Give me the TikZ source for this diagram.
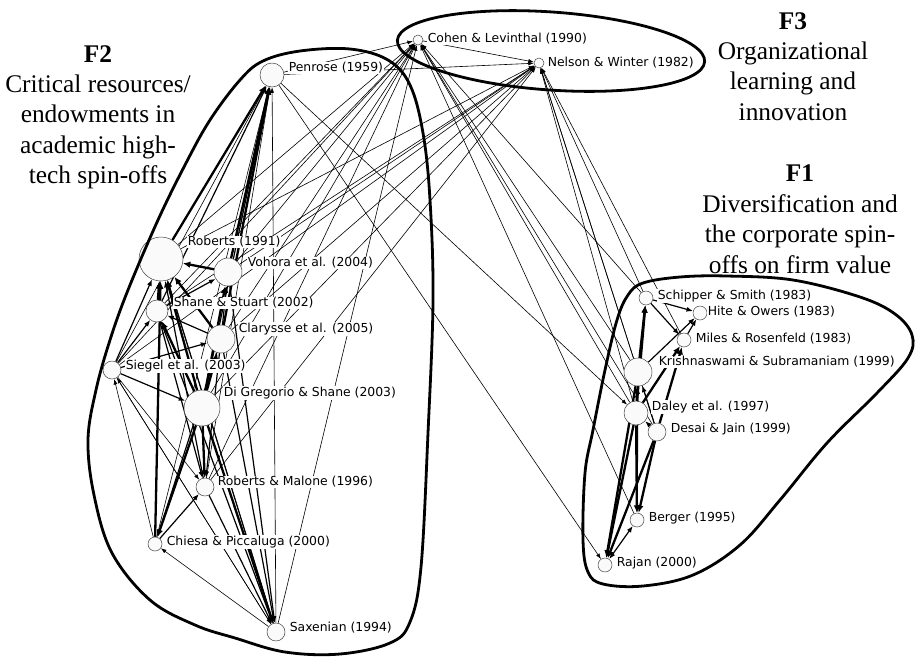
\documentclass[tikz,border=0pt]{standalone}
\usepackage{fontspec}
\setmainfont{Liberation Serif}
\newfontfamily\labelfont{DejaVu Sans}
\usetikzlibrary{arrows.meta,backgrounds}
\tikzset{>={Latex[length=5.5pt,width=4pt]}}
\tikzset{
  paper/.style = {circle, draw=black!75, fill=black!2, line width=0.5pt, inner sep=0pt},
  name tag/.style = {anchor=west, fill=white, inner sep=0.6pt,
    font=\labelfont\fontsize{12.4}{14}\selectfont},
  link/.style = {->, line width=0.6pt},
  link med/.style = {->, line width=1.2pt, >={Latex[length=6.5pt,width=5pt]}},
  link thick/.style = {->, line width=2.3pt, >={Latex[length=7.5pt,width=6.5pt]}},
  hull/.style = {line width=2.8pt},
  factor/.style = {anchor=north, align=center, inner sep=0pt,
    font=\fontsize{25.4}{30.4}\selectfont}
}

\begin{document}
\begin{tikzpicture}[x=1pt,y=-1pt]
  \useasboundingbox (0,0) rectangle (917,657);
  % papers of F2
  \node[paper,minimum size=24] (pen)    at (272,75)  {};
  \node[paper,minimum size=44] (rob91)  at (161,259) {};
  \node[paper,minimum size=28] (voh)    at (228,272) {};
  \node[paper,minimum size=22] (shst)   at (157,311) {};
  \node[paper,minimum size=28] (clar)   at (221,339) {};
  \node[paper,minimum size=18] (sieg)   at (112,370) {};
  \node[paper,minimum size=36] (digr)   at (202,408) {};
  \node[paper,minimum size=18] (robmal) at (205,487) {};
  \node[paper,minimum size=14] (chie)   at (155,544) {};
  \node[paper,minimum size=18] (sax)    at (276,632) {};
  % papers of F3
  \node[paper,minimum size=10] (coh)    at (418,40)  {};
  \node[paper,minimum size=10] (nel)    at (539,63)  {};
  % papers of F1
  \node[paper,minimum size=14] (schip)  at (646,298) {};
  \node[paper,minimum size=14] (hite)   at (700,313) {};
  \node[paper,minimum size=14] (miles)  at (684,340) {};
  \node[paper,minimum size=28] (krish)  at (638,372) {};
  \node[paper,minimum size=24] (daley)  at (636,413) {};
  \node[paper,minimum size=18] (desai)  at (657,432) {};
  \node[paper,minimum size=14] (berg)   at (637,520) {};
  \node[paper,minimum size=14] (rajan)  at (605,565) {};

  \begin{pgfonlayer}{background}
  % citations of F3
  \foreach \a in {pen,rob91,voh,shst,clar,sieg,digr,robmal,sax,schip,krish,daley,desai,berg}
    \draw[link] (\a) -- (coh);
  \foreach \a in {pen,coh,rob91,voh,shst,clar,sieg,digr,robmal,schip,miles,krish,daley,desai}
    \draw[link] (\a) -- (nel);
  % citations of Penrose
  \draw[link thick] (rob91) -- (pen);
  \draw[link thick] (voh) -- (pen);
  \draw[link thick] (clar) -- (pen);
  \draw[link med] (digr) -- (pen);
  \draw[link med] (shst) -- (pen);
  \foreach \a in {sieg,chie,robmal,sax}
    \draw[link] (\a) -- (pen);
  \draw[link] (pen) -- (daley);
  \draw[link] (pen) -- (rajan);
  % inside F2
  \draw[link thick] (voh) -- (rob91);
  \draw[link thick] (shst) -- (rob91);
  \draw[link thick] (clar) -- (rob91);
  \draw[link thick] (digr) -- (rob91);
  \draw[link thick] (chie) -- (rob91);
  \draw[link med] (sieg) -- (rob91);
  \draw[link med] (robmal) -- (rob91);
  \draw[link med] (sax) -- (rob91);
  \draw[link med] (clar) -- (voh);
  \draw[link thick] (digr) -- (voh);
  \draw[link med] (shst) -- (voh);
  \draw[link med] (clar) -- (shst);
  \draw[link thick] (digr) -- (shst);
  \draw[link med] (sieg) -- (shst);
  \draw[link thick] (digr) -- (clar);
  \draw[link med] (sieg) -- (clar);
  \draw[link med] (sieg) -- (digr);
  \draw[link thick] (digr) -- (robmal);
  \draw[link med] (clar) -- (robmal);
  \draw[link med] (shst) -- (robmal);
  \draw[link med] (chie) -- (robmal);
  \draw[link] (sieg) -- (robmal);
  \draw[link thick] (digr) -- (chie);
  \draw[link med] (clar) -- (chie);
  \draw[link] (chie) -- (sieg);
  \draw[link] (sax) -- (sieg);
  \draw[link thick] (digr) -- (sax);
  \draw[link med] (clar) -- (sax);
  \draw[link med] (voh) -- (sax);
  \draw[link med] (shst) -- (sax);
  \draw[link med] (robmal) -- (sax);
  \draw[link] (rob91) -- (sax);
  \draw[link] (sieg) -- (sax);
  \draw[link] (sax) -- (chie);
  % inside F1
  \draw[link thick] (krish) -- (schip);
  \draw[link thick] (daley) -- (schip);
  \draw[link med] (schip) -- (hite);
  \draw[link med] (schip) -- (miles);
  \draw[link med] (miles) -- (hite);
  \draw[link med] (krish) -- (hite);
  \draw[link thick] (daley) -- (miles);
  \draw[link thick] (desai) -- (miles);
  \draw[link thick] (daley) -- (krish);
  \draw[link med] (desai) -- (krish);
  \draw[link med] (desai) -- (daley);
  \draw[link thick] (daley) -- (berg);
  \draw[link thick] (desai) -- (berg);
  \draw[link med] (krish) -- (berg);
  \draw[link thick] (krish) -- (rajan);
  \draw[link thick] (daley) -- (rajan);
  \draw[link thick] (desai) -- (rajan);
  \draw[link med,<->] (berg) -- (rajan);
  \end{pgfonlayer}

  % names
  \node[name tag] (pen-t)    at (288,68)  {Penrose (1959)};
  \node[name tag] (rob91-t)  at (187,242) {Roberts (1991)};
  \node[name tag] (voh-t)    at (247,263) {Vohora et al. (2004)};
  \node[name tag] (shst-t)   at (173,303) {Shane \& Stuart (2002)};
  \node[name tag] (clar-t)   at (238,329) {Clarysse et al. (2005)};
  \node[name tag] (sieg-t)   at (125,366) {Siegel et al. (2003)};
  \node[name tag] (digr-t)   at (223,393) {Di Gregorio \& Shane (2003)};
  \node[name tag] (robmal-t) at (217,482) {Roberts \& Malone (1996)};
  \node[name tag] (chie-t)   at (166,542) {Chiesa \& Piccaluga (2000)};
  \node[name tag] (sax-t)    at (289,628) {Saxenian (1994)};
  \node[name tag] (coh-t)    at (427,39)  {Cohen \& Levinthal (1990)};
  \node[name tag] (nel-t)    at (547,63)  {Nelson \& Winter (1982)};
  \node[name tag] (schip-t)  at (657,296) {Schipper \& Smith (1983)};
  \node[name tag] (hite-t)   at (707,312) {Hite \& Owers (1983)};
  \node[name tag] (miles-t)  at (695,339) {Miles \& Rosenfeld (1983)};
  \node[name tag] (krish-t)  at (658,362) {Krishnaswami \& Subramaniam (1999)};
  \node[name tag] (daley-t)  at (651,407) {Daley et al. (1997)};
  \node[name tag] (desai-t)  at (670,429) {Desai \& Jain (1999)};
  \node[name tag] (berg-t)   at (648,518) {Berger (1995)};
  \node[name tag] (rajan-t)  at (616,563) {Rajan (2000)};

  % factor hulls
  \draw[hull] plot[smooth cycle, tension=0.6] coordinates {
    (240,80) (263,61) (300,51) (350,49) (388,60) (410,85) (423,133) (430,200)
    (433,300) (428,433) (421,567) (410,622) (390,643) (340,654) (285,652)
    (235,638) (195,625) (150,600) (112,553) (94,495) (88,440) (96,390)
    (110,340) (128,290) (158,220) (185,165) (210,120)};
  \draw[hull, rotate around={-4:(551,51)}] (551,51) ellipse [x radius=154, y radius=39];
  \draw[hull] plot[smooth cycle, tension=0.6] coordinates {
    (643,283) (680,277) (727,276) (793,280) (860,297) (895,314) (912,335)
    (908,358) (877,393) (827,443) (780,500) (740,545) (693,575) (643,586)
    (603,584) (588,572) (583,540) (585,473) (593,430) (605,370) (617,320)
    (628,295)};

  % factor titles
  \node[factor] (f2) at (98,45)  {\textbf{F2}\\Critical resources/\\endowments in\\academic high-\\tech spin-offs};
  \node[factor] (f3) at (793,12) {\textbf{F3}\\Organizational\\learning and\\innovation};
  \node[factor] (f1) at (800,165) {\textbf{F1}\\Diversification and\\the corporate spin-\\offs on firm value};
\end{tikzpicture}
\end{document}
